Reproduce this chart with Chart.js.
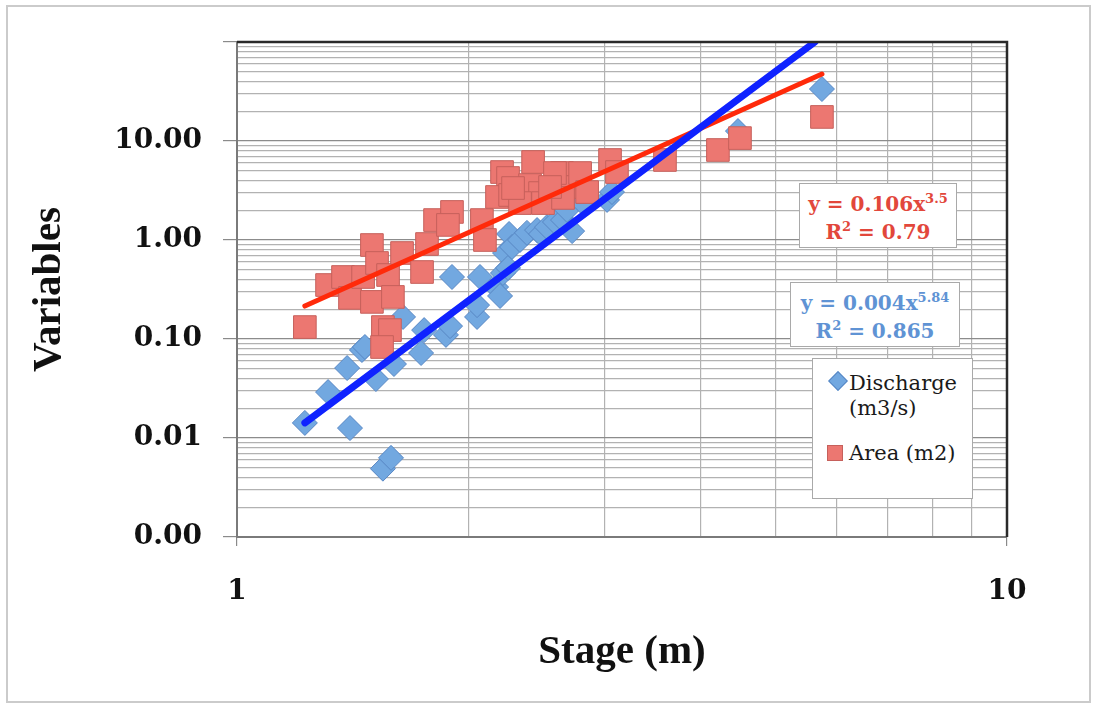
<!DOCTYPE html>
<html>
<head>
<meta charset="utf-8">
<script src="https://cdn.jsdelivr.net/npm/chart.js@4.4.1/dist/chart.umd.min.js"></script>
<style>
  html, body { margin: 0; padding: 0; background: #fff; }
  #wrap { position: relative; width: 1097px; height: 706px; }
  #frame { position: absolute; left: 6px; top: 5px; width: 1085px; height: 698px; border: 2px solid #cbcbcb; box-sizing: border-box; }
  #chart { position: absolute; left: 0; top: 0; }
  .eq { position: absolute; background: #fff; border: 1px solid #a9a9a9; box-sizing: border-box;
        font-family: "DejaVu Serif", serif; font-weight: bold; font-size: 20px; text-align: center;
        line-height: 28px; padding-top: 6px; }
  .eq sup { font-size: 13px; vertical-align: 8px; line-height: 0; }
  #eqA { left: 799px; top: 183px; width: 158px; height: 65px; color: #e2473b; }
  #eqQ { left: 790px; top: 282px; width: 170px; height: 65px; color: #5f93d4; }
  #legend { position: absolute; left: 812px; top: 358px; width: 161px; height: 141px; background: #fff;
            border: 1px solid #a9a9a9; box-sizing: border-box; font-family: "DejaVu Serif", serif;
            font-size: 21px; color: #1a1a1a; line-height: 25px; }
  .item { position: absolute; left: 36px; }
  .dia { position: absolute; left: 831px; top: 374px; width: 12px; height: 12px; background: #72a8e0;
         border: 1px solid #5887c4; transform: rotate(45deg); }
  .sq { position: absolute; left: 827px; top: 445px; width: 16px; height: 16px; background: #ec7771;
        border: 1px solid #c6605b; box-sizing: border-box; }
</style>
</head>
<body>
<div id="wrap">
  <div id="frame"></div>
  <canvas id="chart" width="1097" height="706"></canvas>
  <div class="eq" id="eqA">y = 0.106x<sup>3.5</sup><br>R<sup>2</sup> = 0.79</div>
  <div class="eq" id="eqQ">y = 0.004x<sup>5.84</sup><br>R<sup>2</sup> = 0.865</div>
  <div id="legend">
    <div class="item" style="top:12px">Discharge<br>(m3/s)</div>
    <div class="item" style="top:82px">Area (m2)</div>
  </div>
  <div class="dia"></div>
  <div class="sq"></div>
</div>
<script>
// Discharge (m3/s) vs stage
const stageQ = [1.225, 1.313, 1.390, 1.402, 1.453, 1.466, 1.515, 1.547, 1.585, 1.599,
                1.643, 1.734, 1.750, 1.868, 1.891, 1.902, 2.050, 2.050, 2.068, 2.170,
                2.196, 2.215, 2.229, 2.249, 2.256, 2.276, 2.331, 2.380, 2.453, 2.482,
                2.527, 2.588, 2.651, 2.683, 2.724, 2.815, 3.024, 3.069, 4.473, 5.750];
const discharge = [0.0142, 0.0291, 0.0509, 0.0126, 0.0774, 0.0830, 0.0394, 0.0049, 0.0063, 0.0559,
                   0.167, 0.0722, 0.123, 0.110, 0.135, 0.423, 0.167, 0.220, 0.423, 0.335,
                   0.272, 0.464, 0.739, 0.522, 1.15, 0.85, 1.00, 1.18, 1.26, 1.15,
                   1.35, 1.52, 1.59, 2.01, 1.23, 2.36, 2.54, 3.05, 12.6, 33.5];

// Area (m2) vs stage
const stageA = [1.225, 1.309, 1.373, 1.402, 1.458, 1.497, 1.520, 1.497, 1.571, 1.594,
                1.638, 1.739, 1.765, 1.547, 1.580, 1.543, 1.808, 1.902, 1.879, 2.080,
                2.099, 2.209, 2.249, 2.176, 2.263, 2.424, 2.402, 2.475, 2.497, 2.331,
                2.283, 2.643, 2.707, 2.790, 2.849, 2.651, 2.588, 2.550, 3.051, 3.115,
                3.596, 4.213, 4.500, 5.750];
const area = [0.132, 0.351, 0.423, 0.260, 0.423, 0.890, 0.586, 0.237, 0.443, 0.266,
              0.739, 0.475, 0.911, 0.132, 0.123, 0.083, 1.59, 1.92, 1.42, 1.59,
              1.00, 4.86, 4.23, 2.72, 2.85, 6.14, 3.59, 2.98, 2.36, 2.36,
              3.35, 4.75, 3.43, 4.75, 3.05, 2.66, 4.75, 3.43, 6.43, 4.86,
              6.43, 8.11, 10.7, 17.5];

// power trend lines (straight on log-log), endpoints
const trendQx = [1.225, 5.63];
const trendQy = [0.0142, 100];
const trendAx = [1.225, 5.75];
const trendAy = [0.215, 47.5];

// axis ticks
const xMajor = [1, 10];
const xLabels = ["1", "10"];
const yMajor = [0.001, 0.01, 0.1, 1, 10, 100];
const yLabels = ["0.00", "0.01", "0.10", "1.00", "10.00", ""];

function pts(xs, ys) {
  return xs.map((x, i) => ({ x: x, y: ys[i] }));
}

function withMinor(majors) {
  const out = [];
  majors.forEach((m, i) => {
    out.push(m);
    if (i < majors.length - 1) {
      for (let k = 2; k <= 9; k++) out.push(+(m * k).toPrecision(3));
    }
  });
  return out;
}

function isMajor(list, v) {
  return list.some(m => Math.abs(m - v) / m < 1e-6);
}

const frameBorder = {
  id: "frameBorder",
  afterDraw(chart) {
    const a = chart.chartArea;
    const ctx = chart.ctx;
    ctx.save();
    ctx.strokeStyle = "#2a2a2a";
    ctx.lineWidth = 2.5;
    ctx.beginPath();
    ctx.moveTo(a.left, a.top);
    ctx.lineTo(a.right, a.top);
    ctx.lineTo(a.right, a.bottom);
    ctx.stroke();
    ctx.restore();
  }
};

const tickFont = { family: "DejaVu Serif", weight: "bold", size: 28 };
const titleFont = { family: "Liberation Serif", weight: "bold", size: 41 };

new Chart(document.getElementById("chart"), {
  type: "scatter",
  data: {
    datasets: [
      {
        label: "Discharge trend",
        data: pts(trendQx, trendQy),
        showLine: true,
        pointRadius: 0,
        borderColor: "#0f22ff",
        borderWidth: 7,
        borderCapStyle: "round",
        order: 0
      },
      {
        label: "Area trend",
        data: pts(trendAx, trendAy),
        showLine: true,
        pointRadius: 0,
        borderColor: "#ff2a0a",
        borderWidth: 5,
        borderCapStyle: "round",
        order: 1
      },
      {
        label: "Area (m2)",
        data: pts(stageA, area),
        pointStyle: "rect",
        pointRadius: 16,
        backgroundColor: "#ec7771",
        borderColor: "#c6605b",
        borderWidth: 1,
        order: 2
      },
      {
        label: "Discharge (m3/s)",
        data: pts(stageQ, discharge),
        pointStyle: "rectRot",
        pointRadius: 12.5,
        backgroundColor: "#72a8e0",
        borderColor: "#5887c4",
        borderWidth: 1,
        order: 3
      }
    ]
  },
  options: {
    responsive: false,
    animation: false,
    layout: { padding: { top: 42, right: 90, bottom: 0, left: 0 } },
    plugins: { legend: { display: false }, tooltip: { enabled: false } },
    scales: {
      x: {
        type: "logarithmic",
        min: 1,
        max: 10,
        afterBuildTicks: s => { s.ticks = withMinor(xMajor).map(v => ({ value: v })); },
        afterFit: s => { s.height = 169; },
        grid: {
          color: c => (c.tick && isMajor(xMajor, c.tick.value)) ? "#8c8c8c" : "#b2b2b2",
          lineWidth: 1.2,
          tickLength: 9,
          tickColor: c => (c.tick && isMajor(xMajor, c.tick.value)) ? "#8a8a8a" : "rgba(0,0,0,0)"
        },
        border: { display: true, color: "#7a7a7a", width: 2 },
        ticks: {
          autoSkip: false,
          maxRotation: 0,
          padding: 29,
          color: "#111",
          font: tickFont,
          callback: v => { const i = xMajor.findIndex(m => Math.abs(m - v) / m < 1e-6); return i >= 0 ? xLabels[i] : ""; }
        },
        title: { display: true, text: "Stage (m)", color: "#111", font: titleFont, padding: { top: 0, bottom: 29 } }
      },
      y: {
        type: "logarithmic",
        min: 0.001,
        max: 100,
        afterBuildTicks: s => { s.ticks = withMinor(yMajor).map(v => ({ value: v })); },
        afterFit: s => { s.width = 237; },
        grid: {
          color: c => (c.tick && isMajor(yMajor, c.tick.value)) ? "#8c8c8c" : "#b2b2b2",
          lineWidth: 1.2,
          tickLength: 14,
          tickColor: c => (c.tick && isMajor(yMajor, c.tick.value)) ? "#8a8a8a" : "rgba(0,0,0,0)"
        },
        border: { display: true, color: "#7a7a7a", width: 2 },
        ticks: {
          autoSkip: false,
          padding: 21,
          color: "#111",
          font: tickFont,
          callback: v => { const i = yMajor.findIndex(m => Math.abs(m - v) / m < 1e-6); return i >= 0 ? yLabels[i] : ""; }
        },
        title: { display: true, text: "Variables", color: "#111", font: titleFont, padding: { top: 25, bottom: 0 } }
      }
    }
  },
  plugins: [frameBorder]
});
</script>
</body>
</html>
